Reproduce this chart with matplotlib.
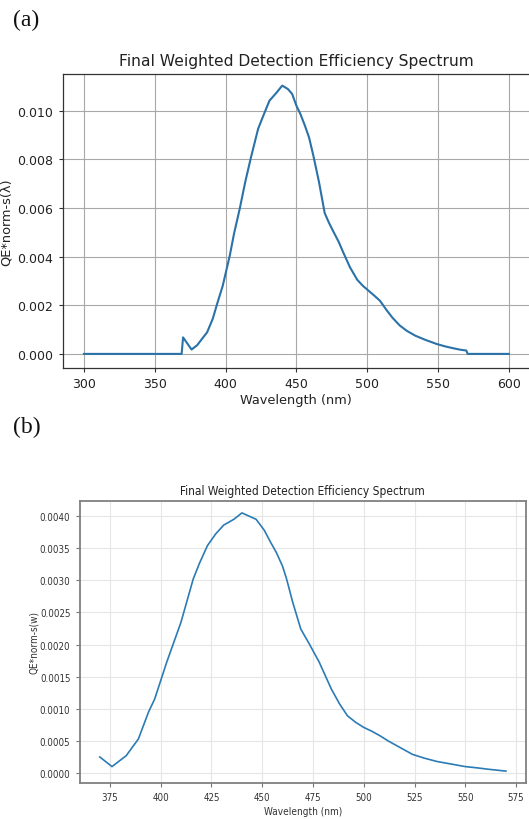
import matplotlib
matplotlib.use("Agg")
import matplotlib.pyplot as plt
from matplotlib import font_manager as fm
from matplotlib.font_manager import FontProperties

# ---------------- data ----------------
# (a) full range 300-600 nm
wl_a = [300, 320, 340, 360, 369, 370, 376, 380, 383, 387, 391, 394, 398, 403,
        406, 410, 414, 418, 423, 427, 431, 436, 440, 444, 447, 450, 453, 456,
        459, 462, 466, 470, 473, 476, 480, 483, 488, 493, 497, 501, 505, 509,
        514, 518, 523, 528, 534, 541, 549, 555, 561, 566, 570, 571, 585, 600]
qe_a = [0.0, 0.0, 0.0, 0.0, 0.0, 0.00068, 0.00018, 0.00036, 0.00059, 0.00089,
        0.00145, 0.00205, 0.0028, 0.00405, 0.00495, 0.00597, 0.0071, 0.0081,
        0.00926, 0.00985, 0.01042, 0.01075, 0.01104, 0.0109, 0.0107, 0.01022,
        0.00985, 0.0094, 0.0089, 0.00816, 0.00707, 0.0058, 0.0054, 0.00505,
        0.0046, 0.00419, 0.00355, 0.00305, 0.0028, 0.0026, 0.0024, 0.00219,
        0.00178, 0.00148, 0.00117, 0.00095, 0.00075, 0.00058, 0.00041, 0.00031,
        0.00023, 0.00017, 0.00014, 0.0, 0.0, 0.0]

# (b) 370-570 nm
wl_b = [370, 376, 383, 389, 394, 397, 403, 410, 416, 419, 423, 427, 431, 436,
        440, 447, 451, 454, 457, 460, 462, 465, 469, 473, 478, 484, 488, 492,
        496, 500, 504, 508, 512, 516, 520, 524, 530, 536, 543, 550, 556, 561,
        570]
qe_b = [0.00025, 0.0001, 0.00027, 0.00053, 0.00095, 0.00115, 0.00173, 0.00235,
        0.00302, 0.00326, 0.00354, 0.00372, 0.00386, 0.00395, 0.00405, 0.00395,
        0.00378, 0.0036, 0.00343, 0.00322, 0.00302, 0.00266, 0.00224, 0.00202,
        0.00173, 0.00131, 0.00108, 0.00089, 0.00079, 0.00071, 0.00065, 0.00058,
        0.0005, 0.00043, 0.00036, 0.00029, 0.00023, 0.00018, 0.00014, 0.0001,
        0.00008, 0.00006, 0.00003]

title = "Final Weighted Detection Efficiency Spectrum"
xlabel = "Wavelength (nm)"
ylabel_a = "QE*norm-s(\u03bb)"
ylabel_b = "QE*norm-s(w)"
xticks_a = [300, 350, 400, 450, 500, 550, 600]
yticks_a = [0.000, 0.002, 0.004, 0.006, 0.008, 0.010]
xticks_b = [375, 400, 425, 450, 475, 500, 525, 550, 575]
yticks_b = [0.0, 0.0005, 0.001, 0.0015, 0.002, 0.0025, 0.003, 0.0035, 0.004]


def pick_condensed():
    try:
        p = fm.findfont(FontProperties(family="DejaVu Sans", stretch="condensed"),
                        fallback_to_default=False)
        if "Condensed" in p:
            return dict(family="DejaVu Sans", stretch="condensed"), 1.0
    except Exception:
        pass
    for fam in ["DejaVu Sans Condensed", "Liberation Sans Narrow"]:
        try:
            fm.findfont(FontProperties(family=fam), fallback_to_default=False)
            return dict(family=fam), (1.0 if "DejaVu" in fam else 1.08)
        except Exception:
            pass
    return dict(family="DejaVu Sans"), 0.9


plt.rcParams["font.family"] = ["DejaVu Sans"]
W, H = 529, 820
fig = plt.figure(figsize=(W / 100, H / 100), dpi=100)

# ---------------- panel (a) ----------------
l, r, t, b = 62.7, 530.0, 74.7, 369.0
ax1 = fig.add_axes([l / W, 1 - b / H, (r - l) / W, (b - t) / H])
ax1.plot(wl_a, qe_a, color="#2a72a8", lw=1.5)
ax1.set_xlim(285, 615)
ax1.set_ylim(-0.00058, 0.01153)
ax1.set_xticks(xticks_a)
ax1.set_yticks(yticks_a)
ax1.set_yticklabels([f"{v:.3f}" for v in yticks_a])
ax1.tick_params(labelsize=9, length=3.2, width=0.8, color="#333333",
                labelcolor="#222222")
ax1.grid(True, color="#a8a8a8", lw=0.8)
for s in ax1.spines.values():
    s.set_color("#333333")
    s.set_linewidth(0.9)
ax1.set_title(title, fontsize=11.2, color="#222222", pad=6)
ax1.set_xlabel(xlabel, fontsize=9.3, color="#222222", labelpad=2)
ax1.set_ylabel(ylabel_a, fontsize=9.3, color="#222222")
ax1.yaxis.set_label_coords(-0.106, 0.5)

# ---------------- panel (b) ----------------
cf, sc = pick_condensed()
l, r, t, b = 79.5, 526.2, 501.7, 784.3
ax2 = fig.add_axes([l / W, 1 - b / H, (r - l) / W, (b - t) / H])
ax2.plot(wl_b, qe_b, color="#2b7bb4", lw=1.2)
ax2.set_xlim(360, 580)
ax2.set_ylim(-0.00016, 0.00424)
ax2.set_xticks(xticks_b)
ax2.set_yticks(yticks_b)
ax2.set_xticklabels([str(v) for v in xticks_b], fontsize=7 * sc, **cf)
ax2.set_yticklabels([f"{v:.4f}" for v in yticks_b], fontsize=7 * sc, **cf)
ax2.tick_params(length=3, width=0.8, color="#777777", labelcolor="#333333")
ax2.grid(True, color="#e6e6e6", lw=0.8)
for s in ax2.spines.values():
    s.set_color("#808080")
    s.set_linewidth(1.3)
ax2.set_title(title, fontsize=8.6 * sc, color="#222222", pad=4.6, **cf)
ax2.set_xlabel(xlabel, fontsize=7.2 * sc, color="#333333", labelpad=3, **cf)
ax2.set_ylabel(ylabel_b, fontsize=7.2 * sc, color="#333333", **cf)
ax2.yaxis.set_label_coords(-0.0907, 0.5)

# ---------------- panel letters ----------------
fig.text(13 / W, 1 - 20 / H, "(a)", fontsize=17, family="Liberation Serif",
         ha="left", va="center", color="#111111")
fig.text(13 / W, 1 - 427 / H, "(b)", fontsize=17, family="Liberation Serif",
         ha="left", va="center", color="#111111")

fig.savefig("out.png", dpi=100)
